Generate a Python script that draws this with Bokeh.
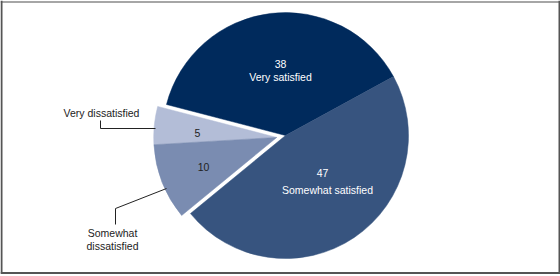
import math
from bokeh.plotting import figure
from bokeh.models import Range1d, ColumnDataSource
from bokeh.core.properties import value
from bokeh.embed import file_html
from bokeh.resources import INLINE

# ---- data (counter-clockwise order, starting from the first slice boundary) ----
categories = ["Very satisfied", "Very dissatisfied", "Somewhat dissatisfied", "Somewhat satisfied"]
percents = [38, 5, 10, 47]
value_labels = ["38", "5", "10", "47"]

# ---- styles ----
colors = ["#002a5c", "#b3bdd7", "#7a8cb1", "#37547f"]
text_colors = ["white", "#222222", "#222222", "white"]
exploded = [False, True, True, False]
START_DEG = 28.6
W, H = 560, 276
CX, CY = 285, 135          # pixel centre
R = 123
EXPLODE = 9
FONT = "Liberation Sans"
FS = "10.5px"

def py(y):  # pixel y -> data y
    return H - y

p = figure(width=W, height=H, output_backend="svg", toolbar_location=None,
           x_range=Range1d(0, W), y_range=Range1d(0, H),
           min_border=0, outline_line_color=None)
p.axis.visible = False
p.grid.visible = False
p.background_fill_color = "white"
p.border_fill_color = "white"

# wedges
total = sum(percents)
starts, ends = [], []
a = math.radians(START_DEG)
for v in percents:
    span = 2 * math.pi * v / total
    starts.append(a); ends.append(a + span)
    a += span
# exploded group is moved out together along its common mid angle
gs = min(s for s, ex in zip(starts, exploded) if ex)
ge = max(e for e, ex in zip(ends, exploded) if ex)
gm = (gs + ge) / 2
xs = [CX + (EXPLODE * math.cos(gm) if ex else 0) for ex in exploded]
ys = [py(CY) + (EXPLODE * math.sin(gm) if ex else 0) for ex in exploded]

src = ColumnDataSource(dict(x=xs, y=ys, start=starts, end=ends, color=colors, cat=categories))
p.wedge(x="x", y="y", radius=R, start_angle="start", end_angle="end",
        fill_color="color", line_color="color", line_width=0.5, source=src)

# in-slice label offsets from the pie centre (pixels, screen y down)
inside = {
    "Very satisfied": [(-5, -72, value_labels[0]), (-5, -59, "Very satisfied")],
    "Very dissatisfied": [(-88, -3, value_labels[1])],
    "Somewhat dissatisfied": [(-82, 31, value_labels[2])],
    "Somewhat satisfied": [(37, 37, value_labels[3]), (42, 54, "Somewhat satisfied")],
}
tx, ty, tt, tc = [], [], [], []
for i, cat in enumerate(categories):
    for dx, dy, t in inside[cat]:
        tx.append(CX + dx); ty.append(py(CY + dy)); tt.append(t); tc.append(text_colors[i])
p.text(x=tx, y=ty, text=tt, text_color=tc, text_font=value(FONT), text_font_size=FS,
       text_align="center", text_baseline="middle")

# outside labels with leader lines
p.line(x=[155, 100, 100], y=[py(128), py(128), py(120)], line_color="#222222", line_width=1)
p.line(x=[166, 115, 115], y=[py(188), py(208), py(224)], line_color="#222222", line_width=1)
p.text(x=[101, 112, 112], y=[py(112), py(232), py(245)],
       text=["Very dissatisfied", "Somewhat", "dissatisfied"],
       text_color="#222222", text_font=value(FONT), text_font_size=FS,
       text_align="center", text_baseline="middle")

# frame
p.line(x=[0, 560], y=[py(1.5), py(1.5)], line_color="#a6a6a6", line_width=2)
p.line(x=[1, 1], y=[py(0), py(273)], line_color="#555555", line_width=2)
p.line(x=[559, 559], y=[py(0), py(273)], line_color="#555555", line_width=2)
p.line(x=[0, 560], y=[py(272.5), py(272.5)], line_color="#555555", line_width=2)

open("out.html", "w").write(file_html(p, INLINE))
